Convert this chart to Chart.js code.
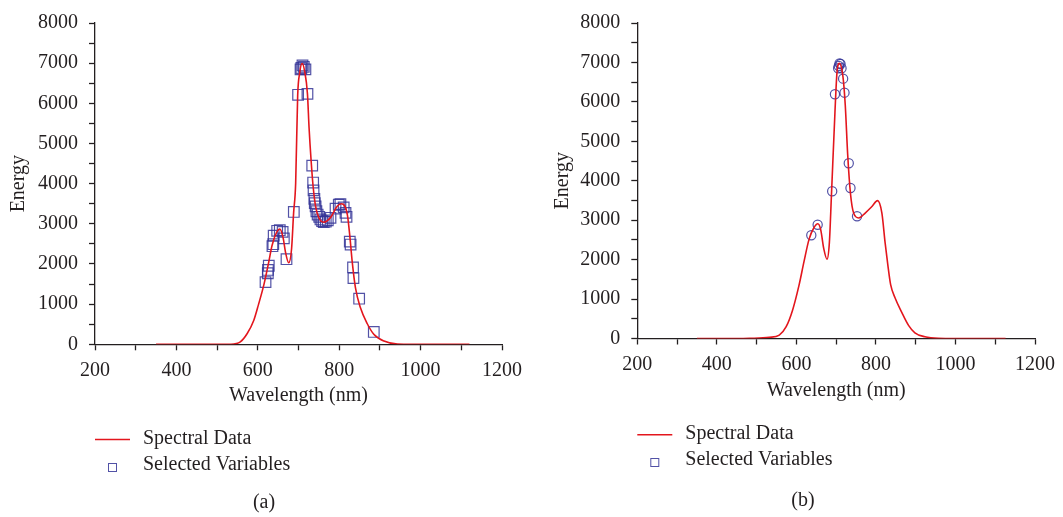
<!DOCTYPE html>
<html lang="en">
<head>
  <meta charset="UTF-8">
  <title>Spectral Data and Selected Variables</title>
  <script src="https://cdn.jsdelivr.net/npm/chart.js"></script>
  <style>
    body {
      margin: 0;
      background: #fff;
      width: 1063px;
      height: 517px;
      position: relative;
      overflow: hidden;
    }
    .chart-box { position: absolute; top: 0; height: 517px; }
    #boxA { left: 0; width: 531px; }
    #boxB { left: 531px; width: 532px; }
  </style>
</head>
<body>
  <div class="chart-box" id="boxA"><canvas id="chartA"></canvas></div>
  <div class="chart-box" id="boxB"><canvas id="chartB"></canvas></div>

  <script>
    // (a) spectrum + selected variables
    const waveA = [350, 450, 500, 533, 557, 574, 590, 602, 615, 627, 635, 646, 654, 662, 668, 676, 683, 688, 693, 698, 703, 709, 715, 722, 726, 731, 736, 742, 750, 762, 779, 795, 806, 820, 826, 832, 840, 852, 869, 885, 910, 943, 980, 1050, 1120];
    const energyA = [0, 0, 0, 2, 60, 268, 592, 1000, 1486, 2054, 2460, 2784, 2870, 2663, 2297, 2030, 2378, 3272, 4002, 6200, 6763, 6990, 6804, 6236, 5384, 4570, 3922, 3435, 3150, 3040, 3160, 3435, 3498, 3230, 2704, 2054, 1403, 916, 512, 251, 80, 5, 0, 0, 0];
    const selWaveA = [619, 624.6, 625, 627, 636, 638, 639, 647.6, 654, 661, 664, 670.5, 688.5, 699, 705, 707, 709.8, 713, 717, 722, 733.7, 736, 737, 739, 740, 742, 744, 747, 751, 754, 758, 762, 767, 772, 778.6, 791, 799, 803, 811, 815.5, 818, 826, 828, 834, 835, 849, 885];
    const selEnergyA = [1549, 1769, 1851, 1956, 2443, 2492, 2704, 2826, 2841, 2800, 2638, 2119, 3296, 6212, 6845, 6880, 6943, 6909, 6845, 6236, 4449, 4027, 3832, 3620, 3515, 3435, 3313, 3230, 3174, 3109, 3069, 3045, 3053, 3085, 3150, 3377, 3474, 3490, 3410, 3272, 3174, 2557, 2484, 1915, 1647, 1135, 307];

    // (b) spectrum + selected variables
    const waveB = [350, 450, 482, 532, 557, 574, 590, 607, 619, 632, 644, 654, 661, 669, 677, 683, 688, 697, 702, 708, 717, 723, 729, 736, 744, 757, 773, 790, 804, 815, 823, 830, 837, 848, 865, 882, 898, 923, 957, 1000, 1126];
    const energyB = [0, 0, 5, 30, 87, 292, 705, 1366, 1943, 2520, 2809, 2910, 2767, 2272, 2010, 2438, 3594, 5738, 6728, 6975, 6646, 5903, 4666, 3676, 3181, 3057, 3181, 3347, 3495, 3181, 2438, 1861, 1366, 1035, 663, 334, 144, 45, 5, 0, 0];
    const selWaveB = [637.5, 653.5, 690, 697, 705, 706.7, 708.5, 711, 713.5, 717.5, 721, 731.7, 736, 752.5];
    const selEnergyB = [2619, 2884, 3733, 6193, 6852, 6910, 6975, 6960, 6852, 6589, 6233, 4443, 3817, 3099];

    const seriesLabels = ['Spectral Data', 'Selected Variables'];
    const xLabel = 'Wavelength (nm)';
    const yLabel = 'Energy';

    const TEXT = '#231f20';
    const RED = '#e3161d';
    const MARK = 'rgba(52, 52, 150, 0.85)';
    const FONT = "'Liberation Serif', 'DejaVu Serif', serif";

    function toPoints(xs, ys) {
      return xs.map((x, i) => ({ x: x, y: ys[i] }));
    }

    // legend + caption drawn under the plot
    const bottomLegend = {
      id: 'bottomLegend',
      afterDraw(chart, args, opts) {
        const ctx = chart.ctx;
        const left = chart.chartArea.left;
        const ds = chart.data.datasets;
        ctx.save();
        ctx.font = '20px ' + FONT;
        ctx.fillStyle = TEXT;
        ctx.textBaseline = 'middle';

        ctx.strokeStyle = RED;
        ctx.lineWidth = 1.5;
        ctx.beginPath();
        ctx.moveTo(left, opts.y1);
        ctx.lineTo(left + 35, opts.y1);
        ctx.stroke();
        ctx.fillText(ds[0].label, left + 48, opts.y1 - 1);

        ctx.strokeStyle = MARK;
        ctx.lineWidth = 1;
        ctx.strokeRect(left + 13.5, opts.y2 - 3.5, 8, 8);
        ctx.fillText(ds[1].label, left + 48, opts.y2 - 2);

        ctx.textAlign = 'center';
        ctx.fillText(opts.caption, opts.captionX, opts.captionY);
        ctx.restore();
      }
    };

    function makeChart(id, cfg) {
      return new Chart(document.getElementById(id), {
        type: 'scatter',
        data: {
          datasets: [
            {
              label: seriesLabels[0],
              data: toPoints(cfg.wave, cfg.energy),
              showLine: true,
              borderColor: RED,
              borderWidth: 1.6,
              pointRadius: 0,
              cubicInterpolationMode: 'monotone',
              order: 1
            },
            {
              label: seriesLabels[1],
              data: toPoints(cfg.selWave, cfg.selEnergy),
              pointStyle: cfg.pointStyle,
              pointRadius: cfg.pointRadius,
              borderColor: MARK,
              backgroundColor: 'rgba(0,0,0,0)',
              borderWidth: 1.2,
              order: 2
            }
          ]
        },
        options: {
          responsive: true,
          maintainAspectRatio: false,
          animation: false,
          layout: { padding: cfg.padding },
          plugins: {
            legend: { display: false },
            tooltip: { enabled: false },
            bottomLegend: cfg.legend
          },
          scales: {
            x: {
              type: 'linear',
              min: 200,
              max: 1200,
              afterFit: s => { s.height = cfg.xAxisHeight; },
              border: { color: TEXT, width: 1.3 },
              grid: { drawOnChartArea: false, tickLength: 6, tickColor: TEXT, tickWidth: 1.3 },
              ticks: {
                stepSize: 100,
                autoSkip: false,
                maxRotation: 0,
                padding: 8,
                color: TEXT,
                font: { family: FONT, size: 20 },
                callback: v => (v % 200 === 0 ? v : '')
              },
              title: {
                display: true,
                text: xLabel,
                color: TEXT,
                padding: 0,
                font: { family: FONT, size: 20 }
              }
            },
            y: {
              min: 0,
              max: 8000,
              afterFit: s => { s.width = cfg.yAxisWidth; },
              border: { color: TEXT, width: 1.3 },
              grid: { drawOnChartArea: false, tickLength: 6, tickColor: TEXT, tickWidth: 1.3 },
              ticks: {
                stepSize: 500,
                autoSkip: false,
                padding: 11,
                color: TEXT,
                font: { family: FONT, size: 20 },
                callback: v => (v % 1000 === 0 ? v : '')
              },
              title: {
                display: true,
                text: yLabel,
                color: TEXT,
                padding: 0,
                font: { family: FONT, size: 20 }
              }
            }
          }
        },
        plugins: [bottomLegend]
      });
    }

    makeChart('chartA', {
      wave: waveA, energy: energyA, selWave: selWaveA, selEnergy: selEnergyA,
      pointStyle: 'rect', pointRadius: 7.5,
      padding: { left: 6.5, right: 29, top: 16, bottom: 109 },
      yAxisWidth: 88.5,
      xAxisHeight: 63.7,
      legend: { y1: 439.5, y2: 467, caption: '(a)', captionX: 264, captionY: 503 }
    });

    makeChart('chartB', {
      wave: waveB, energy: energyB, selWave: selWaveB, selEnergy: selEnergyB,
      pointStyle: 'circle', pointRadius: 4.6,
      padding: { left: 19.5, right: 25.7, top: 15.7, bottom: 114 },
      yAxisWidth: 86.8,
      xAxisHeight: 64.5,
      legend: { y1: 434.7, y2: 462, caption: '(b)', captionX: 272, captionY: 501 }
    });
  </script>
</body>
</html>
